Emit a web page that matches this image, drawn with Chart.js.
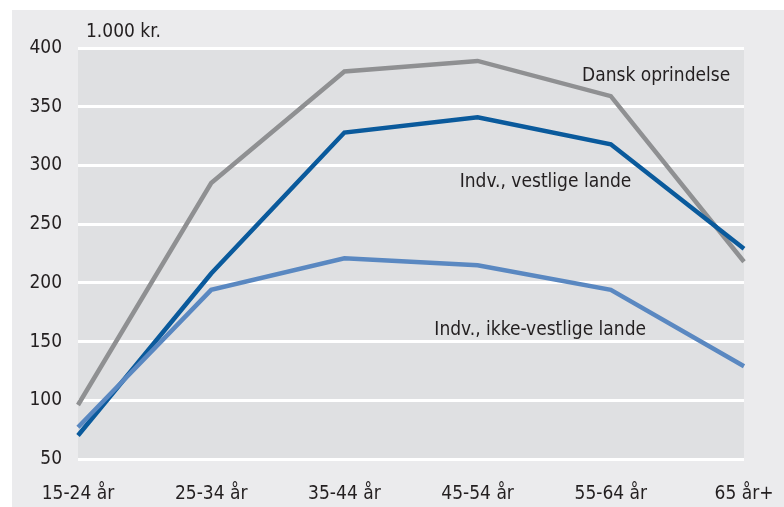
<!DOCTYPE html>
<html>
<head>
<meta charset="utf-8">
<script src="https://cdn.jsdelivr.net/npm/chart.js@4/dist/chart.umd.min.js"></script>
<style>
  html, body { margin: 0; padding: 0; background: #fff; }
  #wrap { width: 784px; height: 507px; }
</style>
</head>
<body>
<div id="wrap"><canvas id="chart" width="784" height="507"></canvas></div>
<script>
// ── Data ─────────────────────────────────────────────────────────────────────
const AGE_GROUPS   = ['15-24 år', '25-34 år', '35-44 år', '45-54 år', '55-64 år', '65 år+'];
const DANSK        = [96, 285, 380, 389, 359, 218];
const VESTLIGE     = [70, 208, 328, 341, 318, 229];
const IKKE_VESTLIG = [77, 194, 221, 215, 194, 129];
const Y_TICKS      = [50, 100, 150, 200, 250, 300, 350, 400];

const FONT = "'DejaVu Sans Condensed', 'Open Sans', sans-serif";
const FSIZE = 19;
const TEXT = '#231f20';

// Backgrounds: light outer panel + slightly darker plot area
const bgPlugin = {
  id: 'bg',
  beforeDraw(chart) {
    const { ctx, chartArea: a, width, height } = chart;
    ctx.save();
    ctx.fillStyle = '#ffffff';
    ctx.fillRect(0, 0, width, height);
    ctx.fillStyle = '#ebebed';
    ctx.fillRect(12, 10, width - 12, height - 10);
    ctx.fillStyle = '#dfe0e2';
    ctx.fillRect(a.left, a.top, a.right - a.left, a.bottom - a.top);
    ctx.restore();
  }
};

// Series labels placed in data space, plus the unit label above the axis
const labelPlugin = {
  id: 'labels',
  afterDatasetsDraw(chart) {
    const { ctx, chartArea: a } = chart;
    const x = chart.scales.x, y = chart.scales.y;
    ctx.save();
    ctx.font = FSIZE + 'px ' + FONT;
    ctx.fillStyle = TEXT;
    ctx.textBaseline = 'middle';
    ctx.textAlign = 'center';
    [
      ['Dansk oprindelse', 4.34, 376],
      ['Indv., vestlige lande', 3.51, 286],
      ['Indv., ikke-vestlige lande', 3.47, 160],
    ].forEach(([t, i, v]) => ctx.fillText(t, x.getPixelForValue(i), y.getPixelForValue(v)));
    ctx.textAlign = 'left';
    ctx.fillText('1.000 kr.', a.left + 8, a.top - 16);
    ctx.restore();
  }
};

const line = (data, color) => ({
  data, borderColor: color, borderWidth: 4.5, tension: 0,
  pointRadius: 0, fill: false, borderCapStyle: 'butt', borderJoinStyle: 'miter'
});

new Chart(document.getElementById('chart'), {
  type: 'line',
  data: {
    labels: AGE_GROUPS,
    datasets: [
      line(IKKE_VESTLIG, '#5a88c1'),
      line(VESTLIGE, '#0a5a9c'),
      line(DANSK, '#8f9092'),
    ]
  },
  options: {
    responsive: false,
    animation: false,
    layout: { padding: { top: 48, right: 40, left: 0, bottom: 0 } },
    plugins: { legend: { display: false }, tooltip: { enabled: false } },
    scales: {
      x: {
        offset: false,
        grid: { display: false, drawTicks: false },
        border: { display: false },
        ticks: { color: TEXT, font: { family: FONT, size: FSIZE }, padding: 24, maxRotation: 0 },
        afterFit: s => { s.height = 48; s.paddingLeft = 0; s.paddingRight = 0; }
      },
      y: {
        min: 50, max: 400,
        afterBuildTicks: s => { s.ticks = Y_TICKS.map(v => ({ value: v })); },
        grid: { color: '#ffffff', lineWidth: 3, drawTicks: false },
        border: { display: false },
        ticks: { color: TEXT, font: { family: FONT, size: FSIZE }, padding: 16 },
        afterFit: s => { s.width = 78; s.paddingTop = 0; s.paddingBottom = 0; }
      }
    }
  },
  plugins: [bgPlugin, labelPlugin]
});
</script>
</body>
</html>
